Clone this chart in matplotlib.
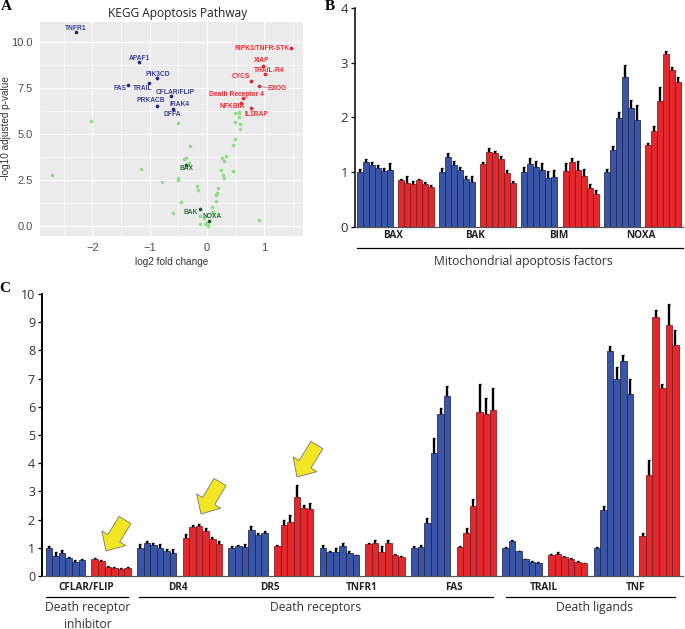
#!/usr/bin/env python3
"""Apoptosis figure: KEGG volcano plot plus two qPCR bar panels."""
import math
import matplotlib
matplotlib.use('Agg')
import matplotlib.pyplot as plt
from matplotlib.lines import Line2D
from matplotlib.patches import Polygon

W, H = 685, 629
BLUE, RED = '#3b55a6', '#e2282c'
UI_FONT = 'Open Sans'

# ===================================================================
# Panel A data
# ===================================================================
other_x = [-2.02, -2.71, -1.15, -0.79, -0.51, -0.30, -0.40, -0.37, -0.32, -0.34, -0.50, -0.51,
           -0.18, -0.15, -0.45, -0.60, -0.12, -0.12, -0.05, -0.03, 0.01, 0.02, -0.02, 0.09,
           0.08, 0.11, 0.15, 0.16, 0.17, 0.19, 0.30, 0.25, 0.28, 0.26, 0.30, 0.33, 0.45, 0.45,
           0.49, 0.57, 0.49, 0.57, 0.56, 0.48, 0.55, 0.56, -0.57, 0.91]
other_y = [5.72, 2.77, 3.13, 2.39, 5.60, 4.37, 3.66, 3.70, 3.42, 3.35, 2.61, 2.52,
           2.21, 1.97, 1.32, 0.71, 0.56, 0.13, 0.43, 0.13, 0.02, 0.07, 0.20, 1.03,
           0.71, 0.78, 1.36, 1.70, 1.79, 2.10, 2.64, 3.08, 2.79, 3.70, 3.53, 3.80, 3.01, 4.44,
           4.73, 5.27, 5.65, 5.56, 5.92, 6.18, 6.21, 6.14, 6.30, 0.33]
down_x = [-2.28, -1.18, -0.88, -1.02, -1.37, -0.62, -0.87, -0.60]
down_y = [10.58, 8.91, 8.06, 7.79, 7.70, 7.07, 6.56, 6.36]
up_x = [1.47, 0.97, 1.01, 0.77, 0.90, 0.62, 0.59, 0.76]
up_y = [9.69, 8.73, 8.26, 7.88, 7.64, 6.99, 6.72, 6.43]
mito_x = [-0.37, -0.12, 0.04]
mito_y = [3.33, 0.96, 0.31]

down_labels = ['TNFR1', 'APAF1', 'PIK3CD', 'FAS', 'TRAIL', 'CFLAR/FLIP', 'PRKACB', 'IRAK4', 'DFFA']
down_lx = [76, 139, 158, 120, 143, 175, 151, 179, 172]
down_ly = [28, 58, 74, 88, 88, 92, 101, 105, 114]
up_labels = ['RIPK1/TNFR-STK', 'XIAP', 'TRAIL-R4', 'CYCS', 'EXOG', 'Death Receptor 4', 'NFKBIA', 'IL1RAP']
up_lx = [262, 262, 269, 241, 277, 236, 232, 256]
up_ly = [48, 61, 70, 77, 88, 94, 107, 115]
mito_labels = ['BAX', 'BAK', 'NOXA']
mito_lx = [186, 191, 212]
mito_ly = [169, 212, 216]

# ===================================================================
# Panel B data
# ===================================================================
b_genes = ['BAX', 'BAK', 'BIM', 'NOXA']
b_gene_px = [393, 475, 559, 641]
b_blue = [[1.0, 1.18, 1.12, 1.07, 1.02, 1.04], [1.0, 1.28, 1.13, 1.04, 0.87, 0.82],
          [1.0, 1.15, 1.10, 1.04, 0.89, 0.90], [1.0, 1.40, 1.98, 2.74, 2.17, 1.96]]
b_blue_err = [[0.05, 0.06, 0.06, 0.05, 0.06, 0.12], [0.07, 0.07, 0.07, 0.05, 0.06, 0.10],
              [0.10, 0.11, 0.10, 0.12, 0.13, 0.14], [0.05, 0.08, 0.12, 0.21, 0.15, 0.26]]
b_red = [[0.85, 0.80, 0.79, 0.86, 0.78, 0.72], [1.15, 1.36, 1.34, 1.24, 0.98, 0.80],
         [1.02, 1.18, 1.04, 0.92, 0.71, 0.60], [1.49, 1.75, 2.30, 3.15, 2.87, 2.64]]
b_red_err = [[0.02, 0.13, 0.04, 0.01, 0.04, 0.05], [0.03, 0.08, 0.04, 0.05, 0.05, 0.03],
             [0.14, 0.08, 0.17, 0.14, 0.08, 0.07], [0.04, 0.09, 0.26, 0.07, 0.05, 0.10]]

# ===================================================================
# Panel C data
# ===================================================================
c_genes = ['CFLAR/FLIP', 'DR4', 'DR5', 'TNFR1', 'FAS', 'TRAIL', 'TNF']
c_gene_px = [86, 178, 270, 362, 454, 544, 636]
c_blue = [[1.0, 0.70, 0.80, 0.65, 0.48, 0.55], [1.0, 1.17, 1.10, 0.98, 0.87, 0.82],
          [1.0, 1.07, 1.03, 1.63, 1.45, 1.53], [1.0, 0.85, 0.85, 1.07, 0.82, 0.73],
          [0.98, 1.02, 1.88, 4.35, 5.73, 6.40], [1.0, 1.25, 0.87, 0.59, 0.50, 0.47],
          [1.0, 2.34, 7.97, 6.99, 7.64, 6.47]]
c_blue_err = [[0.05, 0.15, 0.12, 0.03, 0.10, 0.05], [0.15, 0.07, 0.06, 0.14, 0.09, 0.14],
              [0.06, 0.04, 0.10, 0.15, 0.07, 0.06], [0.09, 0.05, 0.14, 0.10, 0.05, 0.03],
              [0.08, 0.09, 0.17, 0.55, 0.22, 0.32], [0.03, 0.03, 0.02, 0.03, 0.02, 0.03],
              [0.03, 0.16, 0.20, 0.42, 0.18, 0.52]]
c_red = [[0.62, 0.52, 0.32, 0.29, 0.25, 0.29], [1.35, 1.75, 1.77, 1.60, 1.32, 1.15],
         [1.07, 1.80, 1.90, 2.80, 2.42, 2.38], [1.13, 1.18, 0.85, 1.16, 0.74, 0.66],
         [1.03, 1.54, 2.48, 5.80, 5.75, 5.88], [0.74, 0.79, 0.67, 0.61, 0.48, 0.45],
         [1.41, 3.58, 9.20, 6.68, 8.89, 8.18]]
c_red_err = [[0.02, 0.04, 0.03, 0.04, 0.03, 0.03], [0.14, 0.05, 0.07, 0.11, 0.06, 0.10],
             [0.03, 0.20, 0.27, 0.42, 0.10, 0.20], [0.03, 0.10, 0.20, 0.13, 0.04, 0.05],
             [0.02, 0.16, 0.25, 1.00, 0.55, 0.80], [0.03, 0.06, 0.05, 0.03, 0.04, 0.02],
             [0.13, 0.52, 0.23, 0.12, 0.75, 0.55]]


def fx(x):
    return x / W


def fy(y):
    return 1 - y / H


def axes_px(fig, left, top, right, bottom):
    return fig.add_axes([fx(left), fy(bottom), (right - left) / W, (bottom - top) / H])


def hline(fig, x0, x1, y, color='black', lw=0.9):
    fig.add_artist(Line2D([fx(x0), fx(x1)], [fy(y), fy(y)], color=color, lw=lw))


def draw_groups(ax, blue, blue_err, red, red_err, period):
    """Draw paired blue and red groups of six touching bars."""
    for g in range(len(blue)):
        for vals, errs, color, edge, off in ((blue[g], blue_err[g], BLUE, '#1c2650', 0),
                                             (red[g], red_err[g], RED, '#7d1a1c', period / 2)):
            xs = [g * period + off + i for i in range(len(vals))]
            ax.bar(xs, vals, width=1.0, color=color, edgecolor=edge, linewidth=0.55, zorder=2)
            ax.errorbar(xs, vals, yerr=[[0] * len(errs), errs], fmt='none', ecolor='black',
                        elinewidth=1.7, capsize=0.8, capthick=1.0, zorder=1)


def style_bars(ax, lw, size):
    for side in ('top', 'right'):
        ax.spines[side].set_visible(False)
    ax.spines['left'].set_linewidth(lw)
    ax.spines['bottom'].set_color('#555555')
    ax.spines['bottom'].set_linewidth(0.9)
    ax.set_xticks([])
    ax.tick_params(axis='y', length=3, width=0.9, pad=2, labelsize=size, labelcolor='#333333')
    for t in ax.get_yticklabels():
        t.set_fontfamily(UI_FONT)


def yellow_arrow(fig, tail, tip, half_body=7, half_head=14, head_len=15):
    """Block arrow built in pixels, from tail to tip."""
    dx, dy = tip[0] - tail[0], tip[1] - tail[1]
    length = math.hypot(dx, dy)
    ux, uy = dx / length, dy / length
    nx, ny = -uy, ux
    bx, by = tip[0] - ux * head_len, tip[1] - uy * head_len
    pts = [(tail[0] + nx * half_body, tail[1] + ny * half_body),
           (bx + nx * half_body, by + ny * half_body),
           (bx + nx * half_head, by + ny * half_head),
           tip,
           (bx - nx * half_head, by - ny * half_head),
           (bx - nx * half_body, by - ny * half_body),
           (tail[0] - nx * half_body, tail[1] - ny * half_body)]
    fig.add_artist(Polygon([(fx(x), fy(y)) for x, y in pts], closed=True, transform=fig.transFigure,
                           facecolor='#f2e522', edgecolor='#777777', linewidth=0.6, zorder=6))


fig = plt.figure(figsize=(W / 100, H / 100), dpi=100)

# ===================================================================
# A) Volcano plot
# ===================================================================
ax = axes_px(fig, 40, 22, 303, 236)
ax.set_facecolor('#ebebeb')
ax.set_axisbelow(True)
for side in ax.spines.values():
    side.set_visible(False)
ax.set_xlim(-2.914, 1.675)
ax.set_ylim(-0.53, 11.1)
ax.set_xticks([-2, -1, 0, 1])
ax.set_yticks([0, 2.5, 5, 7.5, 10])
ax.set_yticklabels(['0.0', '2.5', '5.0', '7.5', '10.0'])
ax.set_xticks([-2.5, -1.5, -0.5, 0.5, 1.5], minor=True)
ax.set_yticks([1.25, 3.75, 6.25, 8.75], minor=True)
ax.grid(True, which='major', color='white', lw=0.8)
ax.grid(True, which='minor', color='white', lw=0.4)
ax.tick_params(which='minor', length=0)
ax.tick_params(which='major', length=0, pad=5, labelsize=8, labelcolor='#4d4d4d')
for t in ax.get_xticklabels() + ax.get_yticklabels():
    t.set_fontfamily('Liberation Sans')
ax.scatter(other_x, other_y, s=7, color='#90de88', linewidths=0, zorder=3)
ax.scatter(down_x, down_y, s=7, color='#232a78', linewidths=0, zorder=3)
ax.scatter(up_x, up_y, s=7, color='#e81e26', linewidths=0, zorder=3)
ax.scatter(mito_x, mito_y, s=7, color='#14592a', linewidths=0, zorder=3)

for labels, xs, ys, color in ((down_labels, down_lx, down_ly, '#3a3f95'),
                              (up_labels, up_lx, up_ly, '#ee2a30'),
                              (mito_labels, mito_lx, mito_ly, '#2c6e3c')):
    for name, lx, ly in zip(labels, xs, ys):
        fig.text(fx(lx), fy(ly), name, color=color, fontsize=4.8, fontweight='bold',
                 family='Liberation Sans', ha='center', va='center', zorder=5)
fig.add_artist(Line2D([fx(258), fx(267)], [fy(86), fy(87.5)], color='#777777', lw=0.5))
fig.add_artist(Line2D([fx(251), fx(254)], [fy(108), fy(112)], color='#777777', lw=0.5))

fig.text(fx(178), fy(13), 'KEGG Apoptosis Pathway', fontsize=8.6, family=UI_FONT,
         color='#222222', ha='center', va='center')
fig.text(fx(172), fy(262), 'log2 fold change', fontsize=7.2, family='Liberation Sans',
         color='#333333', ha='center', va='center')
fig.text(fx(6), fy(128), '-log10 adjusted p-value', fontsize=7.2, family='Liberation Sans',
         color='#333333', ha='center', va='center', rotation=90)

# ===================================================================
# B) Mitochondrial apoptosis factors
# ===================================================================
ax_b = axes_px(fig, 355, 8, 683, 226.7)
draw_groups(ax_b, b_blue, b_blue_err, b_red, b_red_err, 13.7)
ax_b.set_xlim(-0.78, 53.8)
ax_b.set_ylim(0, 4)
ax_b.set_yticks([0, 1, 2, 3, 4])
style_bars(ax_b, 1.1, 9.5)

for name, px in zip(b_genes, b_gene_px):
    fig.text(fx(px), fy(236), name, fontsize=7.2, fontweight='bold', family=UI_FONT,
             color='#222222', ha='center', va='center')
hline(fig, 357, 683, 247.7)
fig.text(fx(523), fy(261), 'Mitochondrial apoptosis factors', fontsize=8.7, family=UI_FONT,
         color='#333333', ha='center', va='center')

# ===================================================================
# C) Death receptors and ligands
# ===================================================================
ax_c = axes_px(fig, 42, 294, 683, 576)
draw_groups(ax_c, c_blue, c_blue_err, c_red, c_red_err, 13.9)
ax_c.set_xlim(-1.07, 96.5)
ax_c.set_ylim(0, 10)
ax_c.set_yticks(range(0, 11))
style_bars(ax_c, 1.4, 9)

for name, px in zip(c_genes, c_gene_px):
    fig.text(fx(px), fy(587), name, fontsize=7.2, fontweight='bold', family=UI_FONT,
             color='#222222', ha='center', va='center')
hline(fig, 46, 128, 597)
hline(fig, 139, 493, 597)
hline(fig, 506, 675, 597)
for name, px, py in (('Death receptor', 88, 608), ('inhibitor', 88, 624),
                     ('Death receptors', 316, 608), ('Death ligands', 595, 608)):
    fig.text(fx(px), fy(py), name, fontsize=8.7, family=UI_FONT, color='#333333',
             ha='center', va='center')

# yellow arrows over the bars of interest
yellow_arrow(fig, (125, 520), (106, 551))
yellow_arrow(fig, (220, 482), (201, 514))
yellow_arrow(fig, (317, 445), (297, 477))

# panel letters
for letter, px, py in (('A', 6, 7), ('B', 330, 7), ('C', 5, 289)):
    fig.text(fx(px), fy(py), letter, fontsize=11, fontweight='bold', family='Liberation Serif',
             color='black', ha='center', va='center')

plt.savefig('out.png', dpi=100)
